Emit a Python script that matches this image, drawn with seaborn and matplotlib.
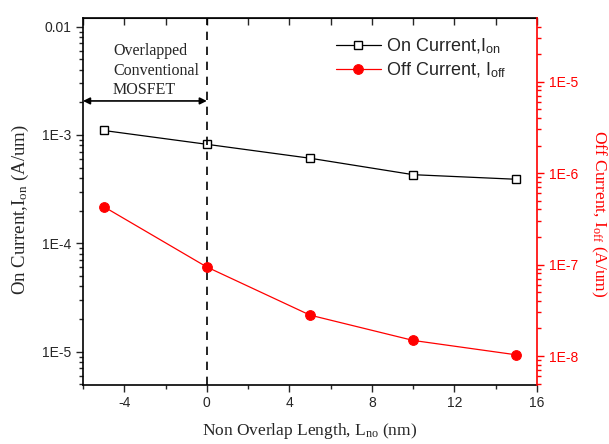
import numpy as np
import pandas as pd
import matplotlib
matplotlib.use("Agg")
import matplotlib.pyplot as plt
import seaborn as sns
from matplotlib.ticker import LogLocator, FixedLocator, NullFormatter, FixedFormatter, MultipleLocator

# ---- data ----
lengths = [-5, 0, 5, 10, 15]
on_current = [1.10e-3, 8.2e-4, 6.1e-4, 4.3e-4, 3.9e-4]
off_current = [4.3e-7, 9.4e-8, 2.8e-8, 1.48e-8, 1.03e-8]
x_ticks = [-4, 0, 4, 8, 12, 16]
left_ticks = [1e-5, 1e-4, 1e-3, 1e-2]
left_labels = ["1E-5", "1E-4", "1E-3", "0.01"]
right_ticks = [1e-8, 1e-7, 1e-6, 1e-5]
right_labels = ["1E-8", "1E-7", "1E-6", "1E-5"]
annot_text = "Overlapped\nConventional\nMOSFET"

sns.set_style("ticks")
plt.rcParams["font.family"] = ["Liberation Sans", "DejaVu Sans"]
plt.rcParams["axes.unicode_minus"] = False
plt.rcParams["mathtext.fontset"] = "custom"
plt.rcParams["mathtext.rm"] = "Liberation Serif"
plt.rcParams["mathtext.sf"] = "Liberation Sans"
plt.rcParams["mathtext.it"] = "Liberation Serif:italic"

df = pd.DataFrame({"L": lengths, "Ion": on_current, "Ioff": off_current})

fig = plt.figure(figsize=(6.09, 4.44), dpi=100)
ax = fig.add_axes([83 / 609, 59 / 444, 454 / 609, 367 / 444])
ax2 = ax.twinx()

sns.lineplot(data=df, x="L", y="Ion", ax=ax, color="black", marker="s",
             markersize=6, markerfacecolor="white", markeredgecolor="black",
             markeredgewidth=1.0, linewidth=0.9, label="On Current,I$_\\mathsf{on}$",
             legend=False)
sns.lineplot(data=df, x="L", y="Ioff", ax=ax2, color="#ff0000", marker="o",
             markersize=7, markerfacecolor="#ff0000", markeredgecolor="#ff0000",
             linewidth=0.9, label="Off Current, I$_\\mathsf{off}$", legend=False)

ax.set_yscale("log")
ax2.set_yscale("log")
ax.set_xlim(-6, 16)
ax.set_ylim(4.93e-6, 1.2e-2)
ax2.set_ylim(4.82e-9, 4.96e-5)

# x ticks
ax.xaxis.set_major_locator(FixedLocator(x_ticks))
ax.xaxis.set_minor_locator(MultipleLocator(2))
ax.tick_params(axis="x", which="major", direction="out", length=5, width=1, labelsize=10, pad=3)
ax.tick_params(axis="x", which="minor", direction="out", length=3, width=1)
secx = ax.secondary_xaxis("top")
secx.xaxis.set_major_locator(MultipleLocator(2))
secx.tick_params(axis="x", direction="in", length=5, width=1, labeltop=False)

# left y ticks
ax.yaxis.set_major_locator(FixedLocator(left_ticks))
ax.yaxis.set_major_formatter(FixedFormatter(left_labels))
ax.yaxis.set_minor_locator(LogLocator(base=10, subs=np.arange(2, 10), numticks=20))
ax.yaxis.set_minor_formatter(NullFormatter())
ax.tick_params(axis="y", which="major", direction="out", length=5, width=1, labelsize=10)
ax.tick_params(axis="y", which="minor", direction="out", length=3, width=1)

# right y ticks
ax2.yaxis.set_major_locator(FixedLocator(right_ticks))
ax2.yaxis.set_major_formatter(FixedFormatter(right_labels))
ax2.yaxis.set_minor_locator(LogLocator(base=10, subs=np.arange(2, 10), numticks=20))
ax2.yaxis.set_minor_formatter(NullFormatter())
ax2.tick_params(axis="y", which="major", direction="out", length=5, width=1, labelsize=10,
                colors="#ff0000")
ax2.tick_params(axis="y", which="minor", direction="out", length=3, width=1, colors="#ff0000")
ax2.spines["right"].set_color("#ff0000")
ax2.spines["right"].set_linewidth(1.2)

for sp in ["left", "bottom", "top"]:
    ax.spines[sp].set_visible(True)
    ax.spines[sp].set_color("black")
    ax.spines[sp].set_linewidth(1.2)
ax2.spines["left"].set_visible(False)
ax2.spines["top"].set_visible(False)
ax2.spines["bottom"].set_visible(False)
ax.spines["right"].set_visible(False)

# labels
ax.set_xlabel("Non Overlap Length, L$_\\mathrm{no}$ (nm)", family="Liberation Serif",
              fontsize=12.5, labelpad=8)
ax.set_ylabel("On Current,I$_\\mathrm{on}$ (A/um)", family="Liberation Serif",
              fontsize=13.5, va="center")
ax.yaxis.set_label_coords(-63 / 454, 0.477)
ax2.set_ylabel("Off Current, I$_\\mathrm{off}$ (A/um)", family="Liberation Serif",
               fontsize=12.5, color="#ff0000", rotation=-90, va="center")
ax2.yaxis.set_label_coords(1 + 62 / 454, 0.466)

# dashed line at x=0 and arrow
ax.axvline(0, color="black", linestyle=(0, (5, 4)), linewidth=1.2)
ax.annotate("", xy=(-6, 2.06e-3), xytext=(0, 2.06e-3),
            arrowprops=dict(arrowstyle="<|-|>", color="black", lw=1.2,
                            shrinkA=0, shrinkB=0, mutation_scale=10))
ax.text(-4.55, 7.05e-3, annot_text, family="Liberation Serif", fontsize=11.5,
        ha="left", va="top", linespacing=1.3)

# legend
h1, l1 = ax.get_legend_handles_labels()
h2, l2 = ax2.get_legend_handles_labels()
ax2.legend(h1 + h2, l1 + l2, loc="upper left", bbox_to_anchor=(0.557, 0.949),
           frameon=False, fontsize=13, handlelength=2.5, handletextpad=0.25,
           borderpad=0, borderaxespad=0, labelspacing=0.25)

fig.savefig("out.png", dpi=100)
